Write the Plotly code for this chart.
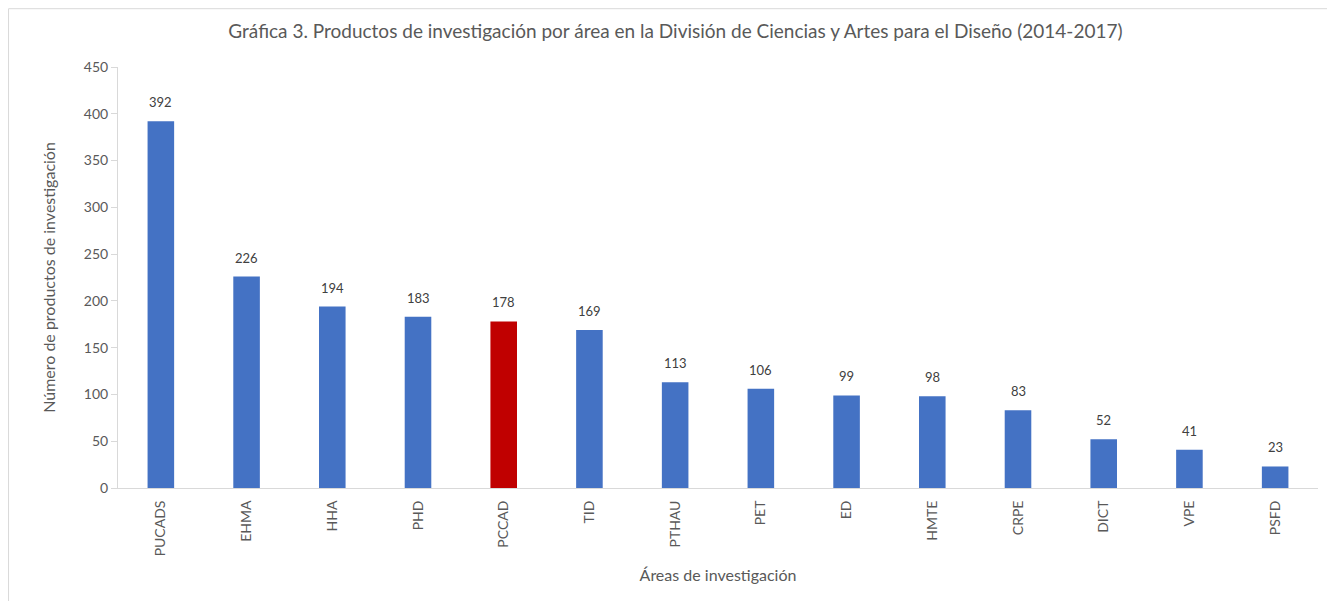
import plotly.graph_objects as go

categories = ["PUCADS", "EHMA", "HHA", "PHD", "PCCAD", "TID", "PTHAU", "PET",
              "ED", "HMTE", "CRPE", "DICT", "VPE", "PSFD"]
values = [392, 226, 194, 183, 178, 169, 113, 106, 99, 98, 83, 52, 41, 23]
highlight = "PCCAD"
y_ticks = [0, 50, 100, 150, 200, 250, 300, 350, 400, 450]

colors = ["#C00000" if c == highlight else "#4472C4" for c in categories]

font_family = "Lato, Open Sans, sans-serif"

fig = go.Figure(go.Bar(
    x=categories, y=values,
    marker=dict(color=colors, line=dict(width=0)),
))

annotations = [
    dict(x=c, y=v, xref="x", yref="y", text=str(v), showarrow=False,
         yanchor="bottom", yshift=9,
         font=dict(size=13, color="#404040", family=font_family))
    for c, v in zip(categories, values)
]

# plot area: 1200 x 421 px
fig.update_layout(
    width=1327, height=593,
    margin=dict(l=110, r=17, t=59, b=113, autoexpand=False),
    paper_bgcolor="white", plot_bgcolor="white",
    bargap=0.69,
    showlegend=False,
    font=dict(family=font_family, color="#595959"),
    title=dict(
        text="Gráfica 3. Productos de investigación por área en la División de Ciencias y Artes para el Diseño (2014-2017)",
        x=0.503, xanchor="center", y=0.96, yanchor="middle",
        font=dict(size=19, color="#595959", family=font_family),
    ),
    xaxis=dict(
        tickangle=-90, showgrid=False, showline=True, linecolor="#D9D9D9", linewidth=1,
        ticks="outside", ticklen=6, tickcolor="rgba(0,0,0,0)",
        tickfont=dict(size=14, color="#595959"),
        title=dict(text="Áreas de investigación", font=dict(size=16, color="#595959"), standoff=14),
    ),
    yaxis=dict(
        range=[0, 450], tickvals=y_ticks, showgrid=False, zeroline=False,
        showline=True, linecolor="#D9D9D9", linewidth=1,
        ticks="outside", ticklen=6, tickcolor="#D9D9D9",
        tickfont=dict(size=14, color="#595959"),
        title=dict(text="Número de productos de investigación", font=dict(size=16, color="#595959"), standoff=24),
    ),
    annotations=annotations,
    shapes=[dict(type="rect", xref="paper", yref="paper",
                 x0=-0.0912, x1=1.0133, y0=-0.4, y1=1.1385,
                 line=dict(color="#D9D9D9", width=1), fillcolor="rgba(0,0,0,0)", layer="below")],
)

fig.write_html("out.html")
